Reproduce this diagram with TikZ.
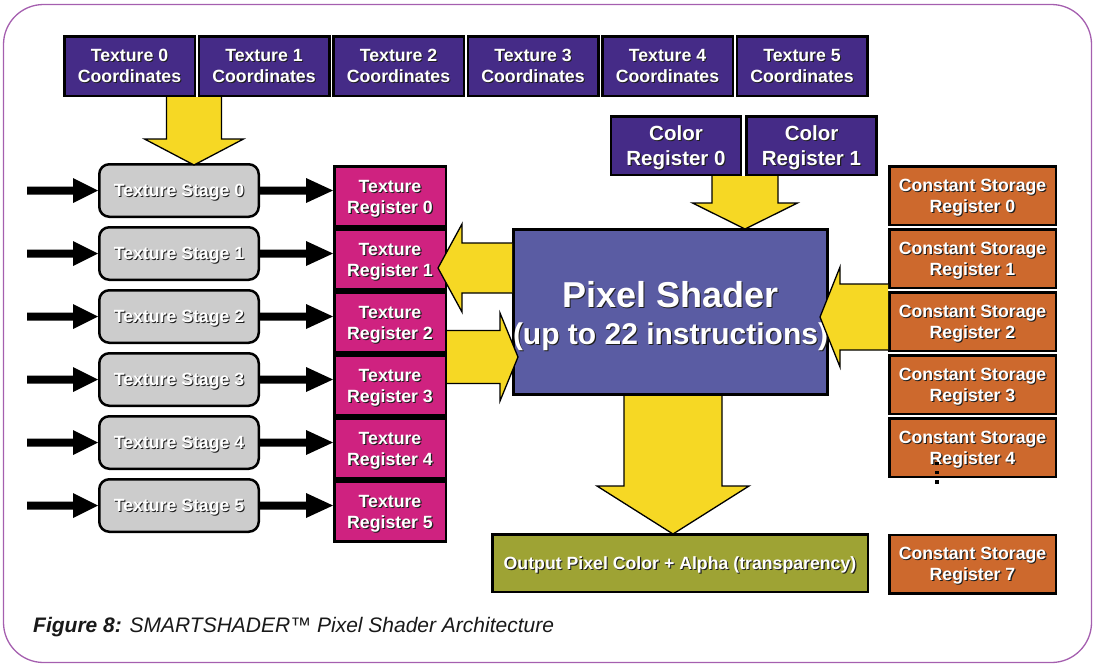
\documentclass[tikz,border=0pt]{standalone}
\usepackage{fontspec}
\setmainfont{Liberation Sans}
\usetikzlibrary{calc}

\definecolor{coordc}{RGB}{69,43,135}
\definecolor{texregc}{RGB}{207,34,128}
\definecolor{shaderc}{RGB}{90,92,163}
\definecolor{constc}{RGB}{205,105,45}
\definecolor{outc}{RGB}{158,163,52}
\definecolor{stagec}{RGB}{204,204,204}
\definecolor{arrowc}{RGB}{246,216,36}
\definecolor{framec}{RGB}{165,95,175}
\definecolor{shadowc}{RGB}{30,30,30}

% white label text with a dark drop shadow
\newcommand{\shd}[1]{\makebox[0pt][l]{\kern1.1pt\raisebox{-1.1pt}{\textcolor{shadowc}{#1}}}#1}

% horizontal block arrow: start (x only), tip, shaft half width, head half width, signed head length
\newcommand{\hpath}[5]{let \p1=#1, \p2=#2 in
  ({\x1},{\y2+(#3)}) -- ({\x2+(#5)},{\y2+(#3)}) -- ({\x2+(#5)},{\y2+(#4)}) -- (\x2,\y2)
  -- ({\x2+(#5)},{\y2-(#4)}) -- ({\x2+(#5)},{\y2-(#3)}) -- ({\x1},{\y2-(#3)})}
% vertical block arrow pointing down: start (y only), tip, shaft half width, head half width, head length
\newcommand{\vpath}[5]{let \p1=#1, \p2=#2 in
  ({\x2-(#3)},\y1) -- ({\x2-(#3)},{\y2+(#5)}) -- ({\x2-(#4)},{\y2+(#5)}) -- (\x2,\y2)
  -- ({\x2+(#4)},{\y2+(#5)}) -- ({\x2+(#3)},{\y2+(#5)}) -- ({\x2+(#3)},\y1)}

\tikzset{
  box/.style={draw=black, line width=2.5pt, inner sep=0pt, text=white, align=center,
    text depth=-2.5pt, font=\bfseries\fontsize{17.7}{21}\selectfont},
  coordbox/.style={box, fill=coordc, minimum width=130.5pt, minimum height=59.5pt},
  colorbox/.style={box, fill=coordc, minimum width=130pt, minimum height=58.5pt,
    font=\bfseries\fontsize{20.5}{25}\selectfont},
  stagebox/.style={box, fill=stagec, rounded corners=10pt, minimum width=159.5pt, minimum height=52.5pt},
  texreg/.style={box, fill=texregc, minimum width=111.5pt, minimum height=60pt},
  constreg/.style={box, fill=constc, minimum width=166.5pt, minimum height=58.5pt},
  shaderbox/.style={box, line width=3pt, fill=shaderc, minimum width=314pt, minimum height=165pt},
  shadertext/.style={text=white, align=center, inner sep=0pt, font=\bfseries\fontsize{30}{37}\selectfont},
  outbox/.style={box, fill=outc, minimum width=375.5pt, minimum height=57.5pt},
  yfill/.style={fill=arrowc},
  yline/.style={draw=black, line width=1.3pt, line join=miter},
  kfill/.style={fill=black},
}

\begin{document}
\begin{tikzpicture}[x=1pt,y=-1pt]
\useasboundingbox (0,0) rectangle (1094,664);

% outer frame
\draw[framec, line width=1.3pt, rounded corners=40pt] (3.5,4.5) rectangle (1091.5,662.5);

% texture coordinate inputs
\foreach \i in {0,...,5}
  \node[coordbox] (tc\i) at ({129.5+134.5*\i},66) {\shd{Texture \i}\\\shd{Coordinates}};

% color registers
\node[colorbox] (cr0) at (676,145.5) {\shd{Color}\\\shd{Register 0}};
\node[colorbox] (cr1) at (811.5,145.5) {\shd{Color}\\\shd{Register 1}};

% texture stages, their inputs and texture registers
\foreach \i in {0,...,5} {
  \node[stagebox] (ts\i) at (179,{190.5+63*\i}) {\shd{Texture Stage \i}};
  \node[texreg] (tr\i) at (390,{196.5+63*\i}) {\shd{Texture}\\\shd{Register \i}};
  \coordinate (in\i) at (27,{190.5+63*\i});
}

% constant storage registers
\foreach \i in {0,...,4}
  \node[constreg] (cs\i) at (972.5,{195.5+63*\i}) {\shd{Constant Storage}\\\shd{Register \i}};
\node[constreg] (cs7) at (972.5,564) {\shd{Constant Storage}\\\shd{Register 7}};

% vertical ellipsis between register 4 and register 7
\foreach \yy in {463.5,472.5,482}
  \fill[black] (935.2,\yy-1.8) rectangle (938.8,\yy+1.8);

% pixel shader core
\node[shaderbox] (shader) at (670.5,312) {};
\node[shadertext] (shtxt) at ($(shader.center)+(0,4.5)$)
  {{\fontsize{36}{40}\selectfont\shd{Pixel Shader}}\\\shd{(up to 22 instructions)}};

% output
\node[outbox] (out) at (680,563) {\shd{Output Pixel Color + Alpha (transparency)}};

% black input / stage arrows
\foreach \i in {0,...,5} {
  \fill[kfill] \hpath{(in\i)}{(ts\i.west)}{4}{12.5}{-25} -- cycle;
  \fill[kfill] \hpath{(ts\i.east)}{(ts\i.east -| tr\i.west)}{4}{12.5}{-27} -- cycle;
}

% yellow data-flow arrows
\fill[yfill] \vpath{(tc0.south east)}{($(ts0.north)+(15,2)$)}{27.5}{49.5}{26} -- cycle;
\draw[yline] \vpath{(tc0.south east)}{($(ts0.north)+(15,2)$)}{27.5}{49.5}{26};

\fill[yfill] \vpath{(cr0.south east)}{($(shader.north)+(74.5,1)$)}{33}{52.5}{26} -- cycle;
\draw[yline] \vpath{(cr0.south east)}{($(shader.north)+(74.5,1)$)}{33}{52.5}{26};

\fill[yfill] \vpath{(shader.south)}{($(out.north)+(-7,1)$)}{49}{76}{48} -- cycle;
\draw[yline] \vpath{(shader.south)}{($(out.north)+(-7,1)$)}{49}{76}{48};

\fill[yfill] \hpath{(shader.west)}{($(tr1.east)+(-9,8.5)$)}{25}{44}{24} -- cycle;
\draw[yline] \hpath{(shader.west)}{($(tr1.east)+(-9,8.5)$)}{25}{44}{24};

\fill[yfill] \hpath{(tr2.east)}{($(shader.west)+(6,45)$)}{26.5}{44}{-18} -- cycle;
\draw[yline] \hpath{(tr2.east)}{($(shader.west)+(6,45)$)}{26.5}{44}{-18};

\fill[yfill] \hpath{(cs2.west)}{($(shader.east)+(-9,5)$)}{33}{50}{20} -- cycle;
\draw[yline] \hpath{(cs2.west)}{($(shader.east)+(-9,5)$)}{33}{50}{20};

% caption
\node[anchor=base west, inner sep=0pt, text=black!90, font=\itshape\fontsize{21}{24}\selectfont]
  (caption) at (33,632) {{\bfseries Figure 8:} SMARTSHADER™ Pixel Shader Architecture};
\end{tikzpicture}
\end{document}
